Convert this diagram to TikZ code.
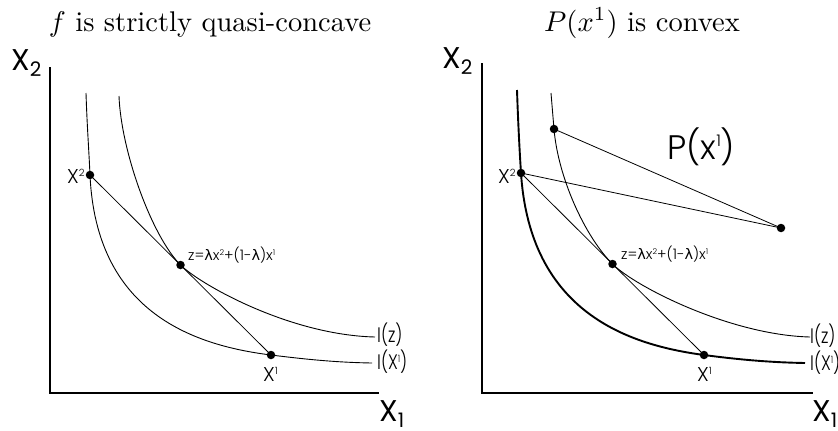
\documentclass[tikz,border=0pt]{standalone}
\usepackage{fontspec}
\newfontfamily\pop{Poppins Light}
\newfontfamily\popr{Poppins}
\newfontfamily\gk{DejaVu Sans}
\begin{document}
\begin{tikzpicture}[x=1pt,y=-1pt,
  axis/.style={line width=1.6pt},
  curve/.style={line width=0.9pt},
  thickcurve/.style={line width=1.9pt},
  seg/.style={line width=0.8pt},
  dot/.style={circle,fill=black,inner sep=0pt,minimum size=8.5pt},
  title/.style={anchor=base,inner sep=0pt,scale=2.85},
  axlab/.style={anchor=base west,inner sep=0pt,font=\popr\fontsize{30}{30}\selectfont},
  ptlab/.style={anchor=base west,inner sep=0pt,font=\pop\fontsize{20}{20}\selectfont},
  ilab/.style={anchor=base west,inner sep=0pt,xscale=0.8,font=\pop\fontsize{21}{21}\selectfont},
  zlab/.style={anchor=base west,inner sep=0pt,font=\pop\fontsize{14.5}{14.5}\selectfont},
  biglab/.style={anchor=base west,inner sep=0pt,font=\pop\fontsize{34}{34}\selectfont}]
\newcommand{\subsc}[1]{\raisebox{-6.5pt}{\fontsize{20}{20}\selectfont #1}}
\newcommand{\supsc}[1]{\raisebox{7pt}{\fontsize{10}{10}\selectfont #1}}
\newcommand{\zsup}[1]{\raisebox{5pt}{\fontsize{8}{8}\selectfont #1}}
\useasboundingbox (0,0) rectangle (838,431);

% titles
\node[title] (t1) at (210,31) {$f$ is strictly quasi-concave};
\node[title] (t2) at (642,31) {$P(x^1)$ is convex};

% ---------- left panel ----------
\coordinate (ya) at (50,67);
\coordinate (xa) at (379,393);
\draw[axis] (ya) |- (xa);
\node[axlab] (X2a) at (11,70) {X\subsc{2}};
\node[axlab] (X1a) at (379,421) {X\subsc{1}};

% I(X^1)
\draw[curve] (86,93) .. controls (87,125) and (88.9,150) .. (90,175)
  .. controls (96,310) and (190,345) .. (271,355)
  .. controls (311,360) and (340,362.5) .. (372,363);
% I(z)
\draw[curve] (119,96) .. controls (121,150) and (151,235) .. (180.5,265)
  .. controls (201,285) and (290,335) .. (375,337);

\node[dot] (pa2) at (90,175) {};
\node[dot] (pa1) at (271,355) {};
\node[dot] (za) at (180.5,265) {};
\draw[seg] (pa2.center) -- (pa1.center);

\node[ptlab] (lx2a) at (67,183) {X\supsc{2}};
\node[ptlab] (lx1a) at (263,381) {X\supsc{1}};
\node[zlab] (lza) at (188,260) {z={\gk λ}x\zsup{2}+(1-{\gk λ})x\zsup{1}};
\node[ilab] (lIza) at (377,342) {I(z)};
\node[ilab] (lIxa) at (377,369) {I(X\supsc{1})};

% ---------- right panel ----------
\coordinate (yb) at (482,63);
\coordinate (xb) at (813,393);
\draw[axis] (yb) |- (xb);
\node[axlab] (X2b) at (442,68) {X\subsc{2}};
\node[axlab] (X1b) at (812,421) {X\subsc{1}};

% I(X^1), thick
\draw[thickcurve] (517,90) .. controls (518,120) and (519.5,150) .. (521,173)
  .. controls (530,313) and (629,345) .. (704,355)
  .. controls (744,360.3) and (775,362.5) .. (805,363);
% I(z)
\draw[curve] (551,93) .. controls (552,105) and (553,117) .. (554,129)
  .. controls (558,177) and (584.5,236) .. (612.5,264)
  .. controls (635,286.5) and (730,335) .. (810,337);

\node[dot] (pb2) at (521,173) {};
\node[dot] (pb1) at (704,355) {};
\node[dot] (zb) at (612.5,264) {};
\node[dot] (pt) at (554,129) {};
\node[dot] (pr) at (781,228) {};
\draw[seg] (pb2.center) -- (pb1.center);
\draw[seg] (pb2.center) -- (pr.center);
\draw[seg] (pt.center) -- (pr.center);

\node[biglab] (lP) at (667,159) {P(x\raisebox{13pt}{\fontsize{16}{16}\selectfont 1})};
\node[ptlab] (lx2b) at (498,183) {X\supsc{2}};
\node[ptlab] (lx1b) at (697,381) {X\supsc{1}};
\node[zlab] (lzb) at (621,259) {z={\gk λ}x\zsup{2}+(1-{\gk λ})x\zsup{1}};
\node[ilab] (lIzb) at (810,343) {I(z)};
\node[ilab] (lIxb) at (810,370) {I(X\supsc{1})};
\end{tikzpicture}
\end{document}
